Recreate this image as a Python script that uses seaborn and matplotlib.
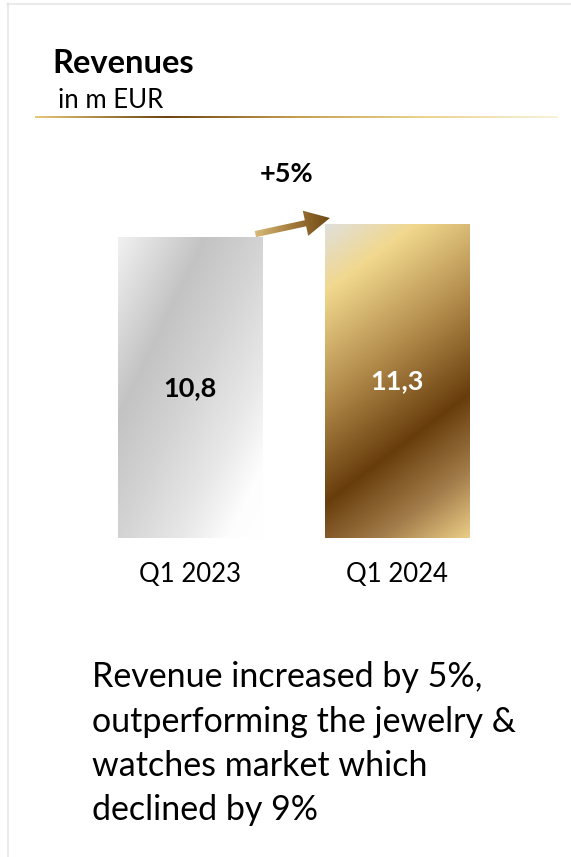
import numpy as np
import pandas as pd
import matplotlib
matplotlib.use("Agg")
import matplotlib.pyplot as plt
from matplotlib.colors import LinearSegmentedColormap
from matplotlib.patches import FancyArrowPatch
from matplotlib.lines import Line2D
import seaborn as sns

# ---- data -------------------------------------------------------------
categories = ["Q1 2023", "Q1 2024"]
revenues = [10.8, 11.3]
value_labels = ["10,8", "11,3"]
growth_label = "+5%"
title = "Revenues"
unit_label = "in m EUR"
commentary = [
    "Revenue increased by 5%,",
    "outperforming the jewelry &",
    "watches market which",
    "declined by 9%",
]

# ---- style ------------------------------------------------------------
sns.set_theme(style="white")
plt.rcParams["font.family"] = ["Lato", "DejaVu Sans"]
plt.rcParams["text.color"] = "black"
plt.rcParams["xtick.color"] = "black"

W, H = 571, 857
fig = plt.figure(figsize=(W / 100, H / 100), dpi=100)
fig.patch.set_facecolor("white")


def fx(px):
    return px / W


def fy(py):
    return 1 - py / H


PX_PER_UNIT = 27.78
ax = fig.add_axes([fx(86.5), fy(538), 414 / W, 389 / H])
df = pd.DataFrame({"quarter": categories, "revenue": revenues})
sns.barplot(data=df, x="quarter", y="revenue", ax=ax, width=0.696,
            color="white", saturation=1, errorbar=None)

silver = LinearSegmentedColormap.from_list("silver", [
    (0.0, "#f1f1f1"), (0.30, "#c3c3c3"), (0.5, "#d3d3d3"),
    (0.72, "#e8e8e8"), (0.88, "#fdfdfd"), (1.0, "#ffffff")])
gold = LinearSegmentedColormap.from_list("gold", [
    (0.0, "#e0dfdc"), (0.16, "#f1d88e"), (0.42, "#b18a4a"),
    (0.66, "#683d0c"), (0.84, "#a27c4a"), (1.0, "#ebcd86")])
fills = [(silver, 1.0, 1.0), (gold, 0.35, 1.0)]


def gradient(cmap, wu, wv, n=400):
    u, v = np.meshgrid(np.linspace(0, 1, n), np.linspace(0, 1, n))
    return cmap((wu * u + wv * v) / (wu + wv))


for patch, (cmap, wu, wv) in zip(ax.patches, fills):
    x0, y0 = patch.get_x(), patch.get_y()
    w, h = patch.get_width(), patch.get_height()
    patch.set_facecolor("none")
    patch.set_edgecolor("none")
    ax.imshow(gradient(cmap, wu, wv), extent=(x0, x0 + w, y0, y0 + h),
              origin="upper", aspect="auto", zorder=1, interpolation="bilinear")

for i, (val, lab) in enumerate(zip(revenues, value_labels)):
    ax.text(i, val / 2, lab, ha="center", va="center", fontsize=19.5,
            fontweight="bold", color="black" if i == 0 else "white", zorder=3)

# growth arrow between the bar tops
arrow = FancyArrowPatch((0.316, revenues[0] + 0.14), (0.676, revenues[1] + 0.22),
                        arrowstyle="simple,head_length=1.8,head_width=1.85,tail_width=0.45",
                        mutation_scale=10, shrinkA=0, shrinkB=0,
                        facecolor="none", edgecolor="none", zorder=2)
ax.add_patch(arrow)
arrow_cmap = LinearSegmentedColormap.from_list("arrow", ["#dcc07c", "#a27a3c", "#6a4410"])
ax.imshow(np.linspace(0, 1, 256)[None, :], cmap=arrow_cmap,
          extent=(0.30, 0.69, revenues[0], revenues[1] + 0.9),
          aspect="auto", zorder=2, clip_path=arrow, interpolation="bilinear")

ax.set_xlim(-0.5, 1.5)
ax.set_ylim(0, 389 / PX_PER_UNIT)
ax.set_xlabel("")
ax.set_ylabel("")
ax.set_yticks([])
ax.tick_params(axis="x", length=0, pad=17, labelsize=18.5)
for s in ax.spines.values():
    s.set_visible(False)
ax.patch.set_alpha(0)

# ---- header -----------------------------------------------------------
fig.text(fx(52), fy(73), title, fontsize=23.5, fontweight="bold",
         va="baseline", ha="left")
fig.text(fx(58), fy(108), unit_label, fontsize=18.5, va="baseline", ha="left")
fig.text(fx(287), fy(182), growth_label, fontsize=19.5, fontweight="bold",
         va="baseline", ha="center")

line_ax = fig.add_axes([fx(35), fy(118), 523 / W, 2 / H])
line_cmap = LinearSegmentedColormap.from_list("rule", [
    (0.0, "#e6c878"), (0.25, "#6c4412"), (0.5, "#c4a050"),
    (0.75, "#ecd490"), (1.0, "#f8f2dc")])
line_ax.imshow(np.linspace(0, 1, 512)[None, :], cmap=line_cmap,
               aspect="auto", extent=(0, 1, 0, 1))
line_ax.set_axis_off()

# ---- commentary -------------------------------------------------------
for k, line in enumerate(commentary):
    fig.text(fx(92), fy(687 + 44.5 * k), line, fontsize=24.5,
             va="baseline", ha="left")

# ---- panel border -----------------------------------------------------
fig.add_artist(Line2D([fx(7), 1], [fy(3.5), fy(3.5)], color="#e6e6e6", lw=1.2))
fig.add_artist(Line2D([fx(7.5), fx(7.5)], [fy(3), 0], color="#e6e6e6", lw=1.2))

fig.savefig("out.png", dpi=100)
